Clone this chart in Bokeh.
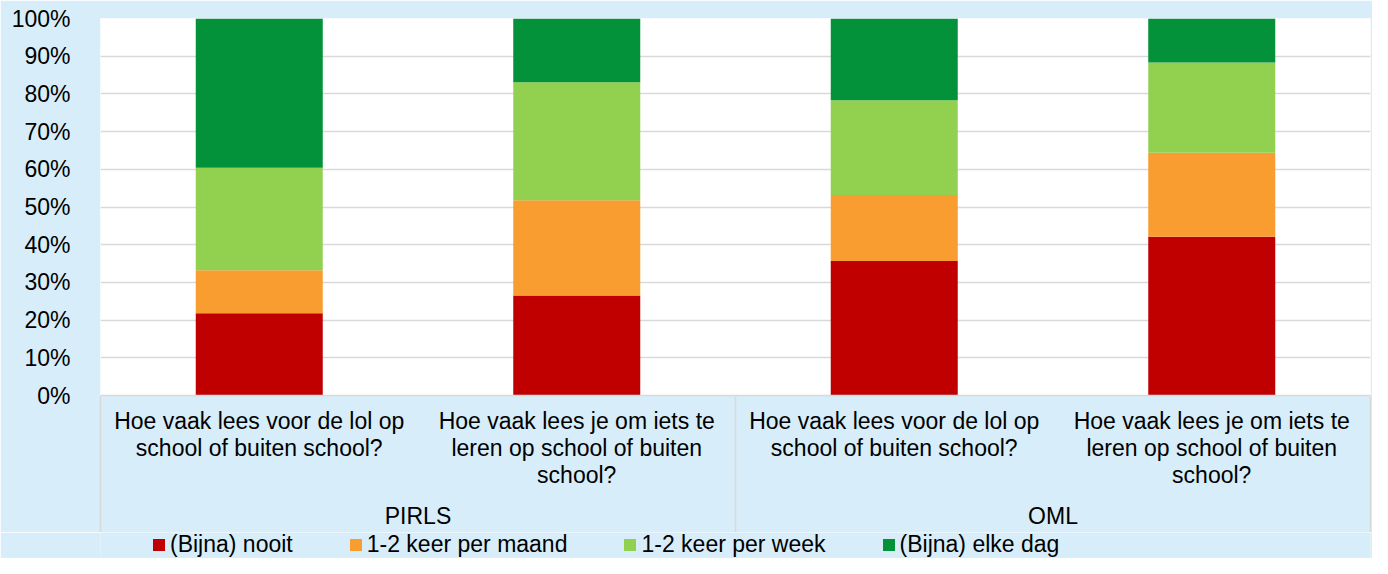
from bokeh.plotting import figure
from bokeh.layouts import column
from bokeh.models import (FactorRange, Range1d, Legend, LegendItem, PrintfTickFormatter,
                          FixedTicker, LinearAxis, ColumnDataSource)
from bokeh.embed import file_html
from bokeh.resources import INLINE

# ---- data ----
groups = ["PIRLS", "OML"]
questions = ["Hoe vaak lees voor de lol op\nschool of buiten school?",
             "Hoe vaak lees je om iets te\nleren op school of buiten\nschool?"]
series = ["(Bijna) nooit", "1-2 keer per maand", "1-2 keer per week", "(Bijna) elke dag"]
nooit = [21.8, 26.5, 35.7, 42.1]
maand = [11.4, 25.3, 17.5, 22.3]
week = [27.2, 31.3, 25.1, 23.9]
dag = [39.6, 16.9, 21.7, 11.7]
y_ticks = [0, 10, 20, 30, 40, 50, 60, 70, 80, 90, 100]
colors = ["#C00000", "#F99D31", "#92D050", "#03923A"]

FONT = "Liberation Sans"
BG = "#D7EDF9"
GRID = "#D9D9D9"
FS = "23px"

factors = [(g, q) for g in groups for q in questions]
source = ColumnDataSource(data={"x": factors, series[0]: nooit, series[1]: maand,
                                series[2]: week, series[3]: dag})
xr = FactorRange(*factors, factor_padding=0, group_padding=0, range_padding=0)

p = figure(x_range=xr, y_range=Range1d(0, 100), width=1372, height=532,
           output_backend="svg", toolbar_location=None,
           min_border_left=100, min_border_right=2, min_border_top=18, min_border_bottom=0)

p.vbar_stack(series, x="x", width=0.4, color=colors, line_color=None, source=source)

p.background_fill_color = "white"
p.border_fill_color = BG
p.outline_line_color = None

# y axis
p.yaxis.ticker = FixedTicker(ticks=y_ticks)
p.yaxis.formatter = PrintfTickFormatter(format="%d%%")
p.yaxis.axis_line_color = None
p.yaxis.major_tick_line_color = None
p.yaxis.minor_tick_line_color = None
p.yaxis.major_label_standoff = 24
p.yaxis.major_label_text_font = FONT
p.yaxis.major_label_text_font_size = FS
p.yaxis.major_label_text_color = "black"

# x axis (categories + groups)
STANDOFF = 12
xa = p.xaxis[0]
xa.axis_line_color = GRID
xa.axis_line_width = 1.5
xa.major_tick_line_color = None
xa.major_tick_in = 0
xa.major_tick_out = 0
xa.major_label_standoff = STANDOFF
xa.major_label_text_font = FONT
xa.major_label_text_font_size = FS
xa.major_label_text_color = "black"
xa.major_label_text_line_height = 1.05
xa.group_text_font = FONT
xa.group_text_font_size = FS
xa.group_text_font_style = "normal"
xa.group_text_color = "black"
xa.group_text_line_height = 1.0
xa.separator_line_color = None

p.xgrid.grid_line_color = None
p.ygrid.grid_line_color = GRID
p.ygrid.grid_line_width = 1.5

# Excel-style group separator lines below the axis (inward ticks of an unlabeled axis)
n_per = len(questions)
sep = LinearAxis(ticker=FixedTicker(ticks=[0, n_per, len(factors)]),
                 axis_line_color=None, major_tick_in=113 + 2 * STANDOFF - 1, major_tick_out=0,
                 major_tick_line_color=GRID, major_tick_line_width=1.5,
                 minor_tick_line_color=None, minor_tick_out=0, minor_tick_in=0,
                 major_label_text_color=None, major_label_text_font_size="0px",
                 major_label_standoff=0)
p.add_layout(sep, "below")

# legend strip
q = figure(x_range=xr, y_range=Range1d(1000, 1001), width=1372, height=26,
           output_backend="svg", toolbar_location=None,
           x_axis_location=None, y_axis_location=None,
           min_border_left=100, min_border_right=2, min_border_top=0, min_border_bottom=0)
q.grid.visible = False
q.outline_line_color = None
q.background_fill_color = BG
q.border_fill_color = BG
rq = q.vbar_stack(series, x="x", width=0.4, color=colors, line_color=None, source=source)

legend = Legend(items=[LegendItem(label=s, renderers=[r]) for s, r in zip(series, rq)],
                orientation="horizontal", location=(51, 0), padding=0, margin=0,
                spacing=55, label_standoff=4, glyph_width=15, glyph_height=15,
                border_line_color=None, background_fill_alpha=0,
                label_text_font=FONT, label_text_font_size=FS, label_text_color="black",
                label_text_line_height=1.0)
q.add_layout(legend, "center")

layout = column(p, q, spacing=0)

open("out.html", "w").write(file_html(layout, INLINE))
